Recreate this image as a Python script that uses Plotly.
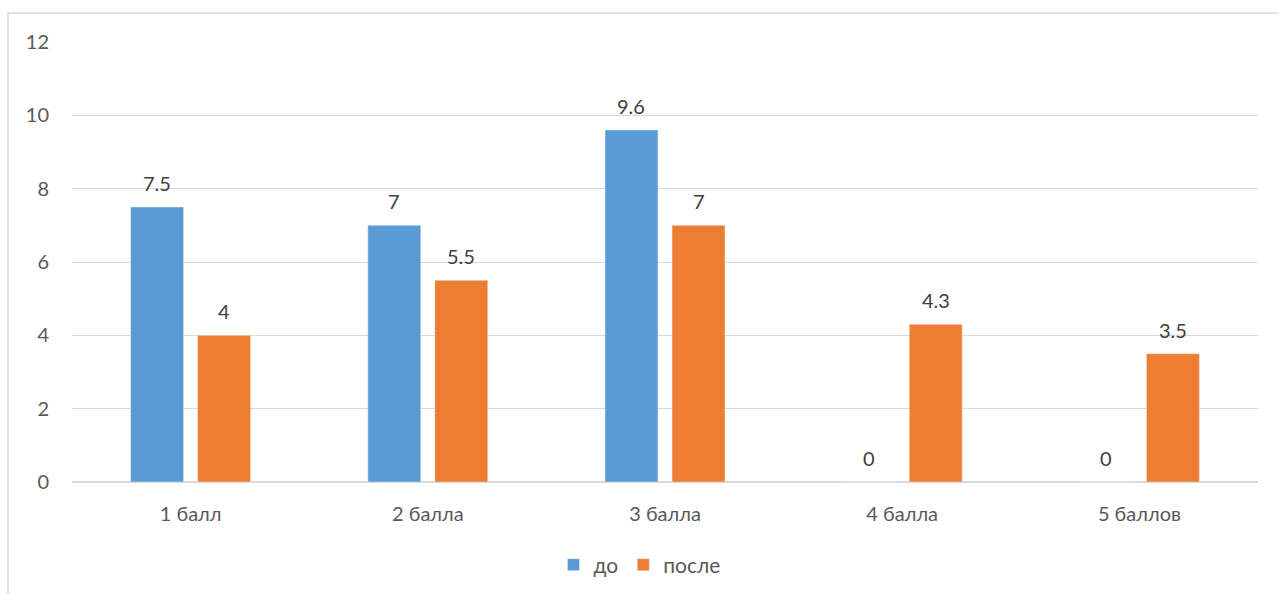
import plotly.graph_objects as go

categories = ["1 балл", "2 балла", "3 балла", "4 балла", "5 баллов"]
before = [7.5, 7, 9.6, 0, 0]
after = [4, 5.5, 7, 4.3, 3.5]
y_ticks = [0, 2, 4, 6, 8, 10, 12]

BLUE = "#5B9BD5"
ORANGE = "#ED7D31"
TEXT = "#595959"
FONT = "Lato, 'Open Sans', sans-serif"

W, H = 1279, 594
L, R, T, B = 72, 21, 42, 112

fig = go.Figure()
fig.add_bar(x=categories, y=before, name="до", marker_color=BLUE)
fig.add_bar(x=categories, y=after, name="после", marker_color=ORANGE)

# value labels above each bar
plot_w = W - L - R
slot = plot_w / len(categories)
bargap, bargroupgap = 0.435, 0.21
half = slot * (1 - bargap) / 2
for vals, sign in ((before, -1), (after, 1)):
    for c, v in zip(categories, vals):
        fig.add_annotation(
            x=c, y=v, text=f"{v:g}", showarrow=False,
            xshift=sign * half / 2, yshift=24,
            font=dict(family=FONT, size=20, color="#404040"),
        )

# outer chart frame
fig.add_shape(
    type="rect", xref="paper", yref="paper",
    x0=(8 - L) / plot_w, x1=(W + 5 - L) / plot_w,
    y0=-(B + 10) / (H - T - B), y1=1 + (T - 13) / (H - T - B),
    line=dict(color="#D9D9D9", width=1.5), layer="below",
)

fig.update_layout(
    width=W, height=H,
    margin=dict(l=L, r=R, t=T, b=B),
    paper_bgcolor="white", plot_bgcolor="white",
    barmode="group", bargap=bargap, bargroupgap=bargroupgap,
    font=dict(family=FONT, size=20, color=TEXT),
    showlegend=True,
    legend=dict(
        orientation="h", xref="container", yref="container",
        x=0.5, xanchor="center", y=1 - 565 / H, yanchor="middle",
        font=dict(size=21, color=TEXT), itemwidth=30,
    ),
    xaxis=dict(showgrid=False, showline=False, ticks="", ticklabelstandoff=18),
    yaxis=dict(
        range=[0, 12], tickvals=y_ticks, showgrid=True, gridcolor="#D9D9D9",
        gridwidth=1, zeroline=True, zerolinecolor="#D9D9D9", zerolinewidth=1.5,
        ticks="", ticklabelstandoff=22,
    ),
)

fig.write_html("out.html")
